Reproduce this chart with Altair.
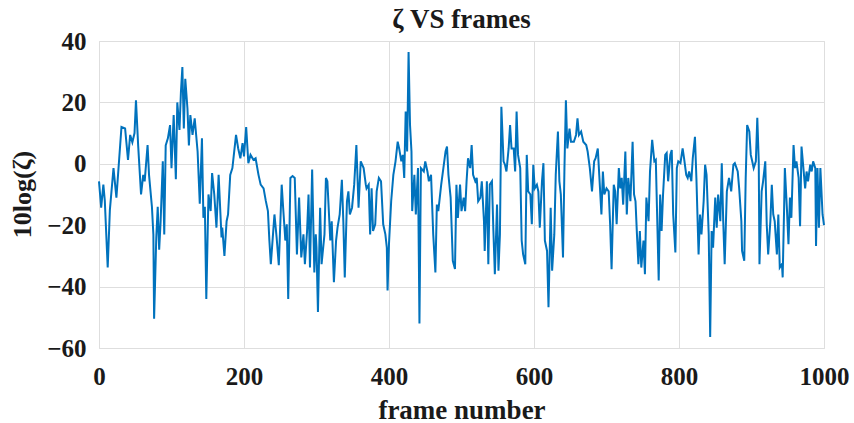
import altair as alt
import pandas as pd

# frame numbers of the line's vertices
frames_a = [0, 3, 6, 8, 12, 15, 20, 24, 31, 36, 40, 43, 46, 49, 51, 54, 58, 61, 63, 67,
            69, 73, 75, 76, 79, 81, 83, 85, 88, 90, 92, 95, 98, 100, 103, 106, 108, 111, 113, 115,
            117, 119, 122, 124]
zeta_a = [-5.7, -14.3, -6.8, -12, -33.8, -15, -1.4, -11, 12, 11.5, 1.3, 9.4, 7, 10, 20.7, 6, -10, -3.6, -5.7, 6.1,
          -3.6, -14, -23, -50.5, -24, -14, -28, -18.7, 0.8, -23, 6, 8.3, 12.6, -1.4, 15.9, -5, 20, 11, 23.4, 31.5,
          11.5, 27.7, 18, 6]

frames_b = [126, 129, 132, 136, 139, 142, 144, 146, 148, 151, 154, 156, 159, 162, 165, 169, 170, 173, 176, 178,
            181, 184, 189, 192, 195, 198, 200, 203, 206, 209, 213, 216, 220, 223, 227, 230, 233, 235, 237, 240,
            242]
zeta_b = [15.9, 9.4, 14.8, 4, -13, 8.3, -17.6, -14, -44, -10, -15.4, -3, -10, -20.8, -3.6, -24, -20.8, -30, -18.7, -16.5,
          -3.6, -1.4, 9.4, 5, 1.8, 6.7, 2.4, 12, 0.2, 2.9, 1.3, 1.8, -3.6, -6.8, -8, -12, -15.4, -25, -32.7, -23,
          -16.5]

frames_c = [245, 248, 252, 254, 257, 259, 261, 264, 267, 270, 273, 276, 279, 282, 284, 287, 289, 291, 294, 297,
            299, 300, 302, 305, 307, 311, 313, 315, 319, 321, 324, 327, 329, 332, 335, 337, 339, 342, 344, 346,
            349, 352, 355, 358, 361, 365, 368]
zeta_c = [-24, -33, -6.8, -14.3, -25, -19.7, -44, -4.6, -4, -4.6, -29.5, -11, -30.5, -23, -32.7, -21.9, -10, -33.8, -1.9, -35.4,
          -23, -27.3, -48.3, -14.3, -32.7, -23, -4.6, -5.7, -25, -18.7, -38.6, -25, -20.8, -16.5, -5.2, -18.7, -37, -12.2, -9, -16.5,
          -14.3, -6.8, 6.1, -14.3, 0.8, -1.4, -6.8]

frames_d = [369, 372, 374, 376, 378, 381, 383, 386, 389, 392, 395, 397, 398, 400, 403, 406, 409, 412, 414, 417,
            419, 421, 423, 425, 427, 429, 431, 432, 435, 437, 440, 442, 444, 448, 450, 453, 455, 458, 461, 464,
            466, 468, 472, 475, 478, 480, 482, 485, 488, 491]
zeta_d = [-8, -6.8, -23, -8, -21.9, -19.7, -9, -4.6, -5.7, -19.7, -23, -27.3, -41.3, -26, -12.2, -3.6, 0.8, 7.2, 5, 0.8,
          2.9, -4.6, 17, 4, 36.4, 12.6, 4, -15.4, -3.6, -16.5, -1.4, -52, -1.4, -2.5, 0.8, -2.5, -5.7, -3.6, -23, -35.4,
          -13.3, -15.4, -6.8, -1.4, 4, 5.6, -3.6, -11, -31.6, -34.3]

frames_e = [493, 495, 498, 500, 503, 505, 507, 509, 512, 514, 516, 519, 521, 523, 526, 528, 531, 532, 535, 537,
            539, 542, 544, 546, 549, 551, 553, 555, 558, 560, 562, 565, 567, 569, 572, 574, 576, 578, 581, 583,
            585, 588, 590, 592, 595, 597, 599, 601, 604, 606, 608, 611, 613, 615, 618, 620]
zeta_e = [-6.8, -17.6, -6.8, -15.4, -11, -15.4, -5.7, 1.8, -1.4, 6.1, -3.6, -5.7, -4.6, -12.2, -11, -5.7, -18.7, -28.4, -5.7, -32.7,
          -6.8, -5.7, -21.9, -36, -13.3, -34.8, -23, 18.6, 0.8, -0.3, -2.5, 5, 12.6, 5, 5, -2.5, 17, 2.9, -1.4, -25,
          -29.5, -32.7, 2.9, -9, -10, -19.7, -0.3, -8, -6.8, -9, -20.8, -5.7, 0.2, -25, -28.4, -46.7]

frames_f = [623, 625, 628, 630, 633, 635, 637, 640, 642, 644, 646, 649, 651, 655, 658, 660, 662, 665, 668, 672,
            674, 677, 680, 683, 685, 688, 690, 693, 695, 697, 700, 703, 705, 707, 710, 712, 714, 717, 719, 721,
            723, 726, 728, 730, 733, 736, 738, 740]
zeta_f = [-14.3, -34.8, -23, -3.6, 10.5, -5.7, -10, -30.5, -1.4, 20.7, 5, 11.5, 7.2, 7.2, 9.4, 14.8, 9.4, 10.5, 7.2, 6.1,
          4, -1.4, -9, 0.8, 1.8, 5, -3.6, -16.5, -2.5, -10, -8, -9, -19.7, -34.3, -6.8, -9, -19.7, -1.4, -8, -4.6,
          -13.3, 4, -16.5, -4.6, -12.2, 7.2, -10, -12.2]

frames_g = [742, 744, 746, 748, 751, 753, 755, 758, 760, 763, 766, 768, 772, 774, 776, 778, 781, 783, 785, 788,
            790, 792, 795, 797, 799, 802, 805, 807, 810, 812, 814, 817, 819, 822, 824, 827, 829, 831, 834, 836,
            838, 841, 843, 845, 847, 850, 852, 854, 857, 859, 861, 863]
zeta_g = [-23, -32.7, -21.9, -33.8, -25, -36, -11, -18.7, -2.5, 7.8, 0.8, 1.3, -38, -10, -21.9, -10, 2.9, 3.5, -5.7, 2.9,
          4.5, -16.5, -28.9, -1.4, 0.8, 0.2, 5, 1.8, -3.6, -4.6, -2.5, -5.7, 1.8, 8.8, -4.6, -29.5, -16.5, -23, -12.2, -0.3,
          -3.6, -23, -56.4, -21.9, -27.3, -11, -20.8, -10, -18.7, 0.2, -18.7, -32.7]

frames_h = [866, 869, 872, 875, 877, 881, 883, 886, 887, 890, 892, 894, 897, 899, 901, 903, 906, 908, 910, 911,
            914, 916, 919, 921, 923, 926, 928, 930, 932, 935, 937, 939, 942, 943, 945, 946, 949, 951, 953, 955,
            958, 960, 962, 965, 967, 969, 972, 974, 976, 978, 981, 983, 985, 988, 989, 991, 993, 995, 998, 1000]
zeta_h = [-9, -4.6, -9, -0.3, 0.2, -2.5, -8, -18.7, -28.4, -31.6, -4.6, 12.6, 10.5, 2.9, 0.8, -1.4, 0.8, 15, 0.8, -32.7,
          -9, -5.7, 0.8, -19.7, -29.5, -18.7, -6.8, -16.5, -18.7, -29.5, -16.5, -33.8, -32.7, -37, -14.3, -1.4, -15.4, -26.2, -11, -17.6,
          6.1, -1.4, 0.8, -4.6, -20.3, 5.6, -2.5, -8, -2.5, -5.7, -0.3, -2.5, 0.8, -1.4, -26.8, -1.4, -20.8, -1.4, -16.5, -20]

x_ticks = [0, 200, 400, 600, 800, 1000]
y_ticks = [-60, -40, -20, 0, 20, 40]

frames = []
zeta_db = []
for fr, zv in [(frames_a, zeta_a), (frames_b, zeta_b), (frames_c, zeta_c), (frames_d, zeta_d),
               (frames_e, zeta_e), (frames_f, zeta_f), (frames_g, zeta_g), (frames_h, zeta_h)]:
    n = min(len(fr), len(zv))
    frames += fr[:n]
    zeta_db += zv[:n]

df = pd.DataFrame({"frame": frames, "zeta_db": zeta_db})

FONT = "Liberation Serif"
GRID = "#dedede"

chart = alt.Chart(df).mark_line(color="#0072BD", strokeWidth=2).encode(
    x=alt.X("frame:Q",
            scale=alt.Scale(domain=[0, 1000], nice=False),
            axis=alt.Axis(values=x_ticks, title="frame number", format="d",
                          labelFont=FONT, labelFontSize=25, labelFontWeight="bold", labelColor="#1a1a1a",
                          labelPadding=16, ticks=False, domain=False,
                          grid=True, gridColor=GRID, gridWidth=1,
                          titleFont=FONT, titleFontSize=27, titleFontWeight="bold", titleColor="#1a1a1a",
                          titleBaseline="alphabetic", titleY=70, labelFlush=False)),
    y=alt.Y("zeta_db:Q",
            scale=alt.Scale(domain=[-60, 40], nice=False),
            axis=alt.Axis(values=y_ticks, title="10log(ζ)", format="d",
                          labelFont=FONT, labelFontSize=25, labelFontWeight="bold", labelColor="#1a1a1a",
                          labelPadding=13, ticks=False, domain=False,
                          grid=True, gridColor=GRID, gridWidth=1,
                          titleFont=FONT, titleFontSize=26, titleFontWeight="bold", titleColor="#1a1a1a",
                          titleAngle=-90, titleBaseline="middle", titleX=-77, titleY=153, labelFlush=False)),
).properties(
    width=725,
    height=307,
    title=alt.TitleParams("ζ VS frames", font=FONT, fontSize=27, fontWeight="bold", color="#1a1a1a",
                          anchor="middle", frame="group", baseline="alphabetic", offset=0, dy=26),
    autosize=alt.AutoSizeParams(type="none"),
    padding={"left": 99, "top": 41, "right": 30, "bottom": 75},
).configure_view(stroke="#262626", strokeWidth=1.2).configure(background="white")

chart.save("out.html", embed_options={"renderer": "svg", "actions": False})
